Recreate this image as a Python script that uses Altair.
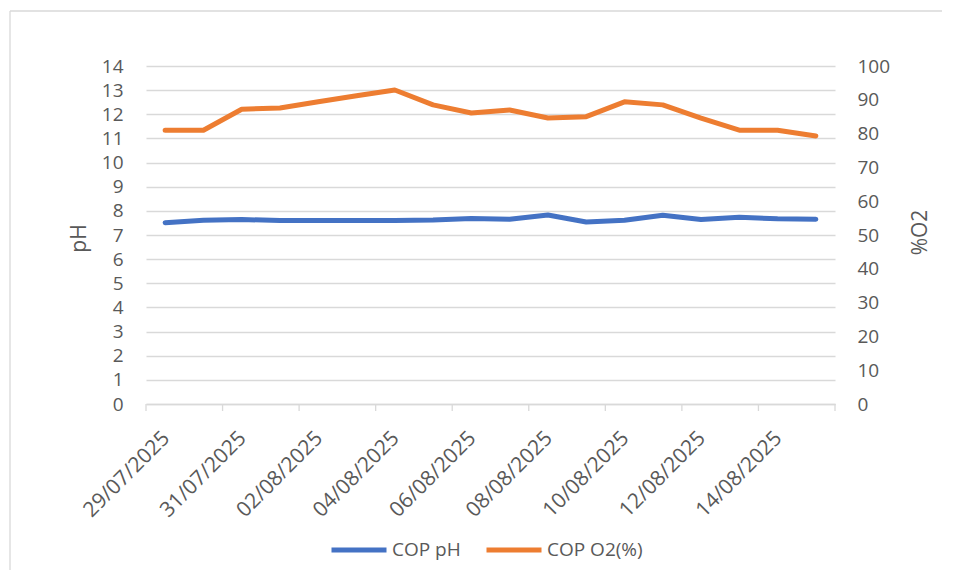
import altair as alt
import pandas as pd

dates = ["29/07/2025", "30/07/2025", "31/07/2025", "01/08/2025", "02/08/2025", "03/08/2025",
         "04/08/2025", "05/08/2025", "06/08/2025", "07/08/2025", "08/08/2025", "09/08/2025",
         "10/08/2025", "11/08/2025", "12/08/2025", "13/08/2025", "14/08/2025", "15/08/2025"]
ph = [7.51, 7.61, 7.64, 7.60, 7.60, 7.60, 7.60, 7.62, 7.68, 7.65, 7.83, 7.54,
      7.61, 7.82, 7.64, 7.74, 7.67, 7.65]
o2 = [81.0, 81.0, 87.2, 87.6, 89.4, 91.2, 92.9, 88.5, 86.1, 87.0, 84.6, 85.0,
      89.4, 88.5, 84.6, 81.0, 81.0, 79.3]
series = ["COP pH", "COP O2(%)"]
colors = ["#4472C4", "#ED7D31"]
ph_ticks = list(range(0, 15))
o2_ticks = list(range(0, 101, 10))

FONT = "Open Sans"
GREY = "#595959"
LINE = "#D9D9D9"
W, H = 689, 338

n = len(dates)
df = pd.DataFrame({"idx": list(range(n)), "date": dates, "ph": ph, "o2": o2})
bounds = pd.DataFrame({"b": [i - 0.5 for i in range(0, n + 1, 2)]})

label_expr = "[" + ",".join(f"'{d}'" for d in dates) + "][datum.value]"
xscale = alt.Scale(domain=[-0.5, n - 0.5], nice=False, zero=False)
x_axis = alt.Axis(values=list(range(0, n, 2)), labelExpr=label_expr, labelAngle=315,
                  labelAlign="right", labelBaseline="top", labelPadding=23, labelOffset=-7,
                  labelOverlap=False, labelFlush=False,
                  ticks=False, grid=False, domainColor=LINE, domainWidth=1.3,
                  title=None, labelFontSize=21, labelColor=GREY, labelFont=FONT)

x_enc = alt.X("idx:Q", scale=xscale, axis=x_axis)

color_enc = alt.Color(
    "series:N",
    scale=alt.Scale(domain=series, range=colors),
    legend=alt.Legend(title=None, orient="none", direction="horizontal",
                      legendX=183, legendY=454, symbolType="stroke", symbolSize=3025,
                      symbolStrokeWidth=5, labelFontSize=19, labelColor=GREY,
                      labelFont=FONT, labelOffset=3, columnPadding=15, padding=0),
)

base = alt.Chart(df)

ph_line = base.transform_calculate(series="'COP pH'").mark_line(
    strokeWidth=5, strokeCap="round", strokeJoin="round"
).encode(
    x=x_enc,
    y=alt.Y("ph:Q", scale=alt.Scale(domain=[0, 14], nice=False),
            axis=alt.Axis(values=ph_ticks, title="pH", titleAngle=270, titleX=-57, titleY=172,
                          titleAlign="center", titleBaseline="bottom", titleFontSize=21,
                          titleFontWeight="normal", titleColor=GREY, titleFont=FONT,
                          labelFontSize=19, labelColor=GREY, labelFont=FONT, labelPadding=23,
                          domain=False, ticks=False, grid=True, gridColor=LINE, gridWidth=1.3)),
    color=color_enc,
)

o2_line = base.transform_calculate(series="'COP O2(%)'").mark_line(
    strokeWidth=5, strokeCap="round", strokeJoin="round"
).encode(
    x=x_enc,
    y=alt.Y("o2:Q", scale=alt.Scale(domain=[0, 100], nice=False),
            axis=alt.Axis(orient="right", values=o2_ticks, title="%O2", titleAngle=270,
                          titleX=74, titleY=166, titleAlign="center", titleBaseline="top",
                          titleFontSize=21, titleFontWeight="normal", titleColor=GREY,
                          titleFont=FONT, labelFontSize=19, labelColor=GREY, labelFont=FONT,
                          labelPadding=22, domain=False, ticks=False, grid=False)),
    color=color_enc,
)

tick_marks = alt.Chart(bounds).mark_rule(color=LINE, strokeWidth=1.3).encode(
    x=alt.X("b:Q", scale=xscale, axis=x_axis),
    y=alt.value(H),
    y2=alt.value(H + 7),
)

border_data = alt.Data(values=[{"k": 1}])
border_top = alt.Chart(border_data).mark_rule(color=LINE, strokeWidth=1.3).encode(
    x=alt.value(-136), x2=alt.value(W + 120), y=alt.value(-55)
)
border_left = alt.Chart(border_data).mark_rule(color=LINE, strokeWidth=1.3).encode(
    x=alt.value(-136), y=alt.value(-55), y2=alt.value(H + 175)
)

chart = alt.layer(
    border_top, border_left, tick_marks, ph_line, o2_line
).resolve_scale(
    y="independent"
).properties(
    width=W, height=H,
    autosize=alt.AutoSizeParams(type="none"),
    padding={"left": 138, "top": 58, "right": 107, "bottom": 166},
    background="white",
).configure_view(strokeWidth=0)

chart.save("out.html", embed_options={"renderer": "svg", "actions": False})
